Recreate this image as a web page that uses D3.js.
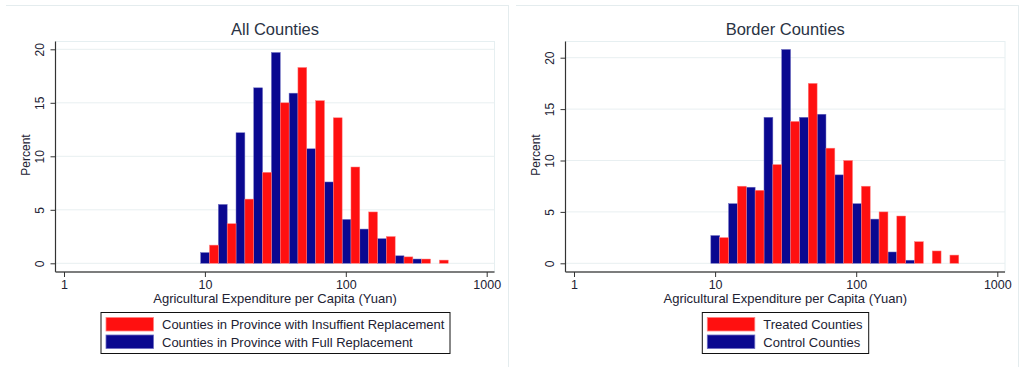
<!DOCTYPE html>
<meta charset="utf-8">
<style>
body{
  margin: 0;
  background-color: white;
}
text{
  font-family: "Liberation Sans", Arial, sans-serif;
  fill: #222233;
}
</style>
<body>
<svg class="chart" width="1019" height="367"></svg>
<script src="https://cdn.jsdelivr.net/npm/d3@7"></script>
<script>
// bin edges (Yuan); each bin is split in half on a log scale: blue left, red right
var binEdges = [9.33, 12.46, 16.63, 22.21, 29.65, 39.59, 52.84, 70.56, 94.19, 125.7, 167.9, 224.1, 299.2, 399.5, 533.3];

// All Counties (percent)
var allInsufficient = [1.7, 3.7, 6.0, 8.5, 15.0, 18.3, 15.2, 13.6, 9.0, 4.8, 2.5, 0.6, 0.4, 0.3];
var allFull         = [1.0, 5.5, 12.2, 16.4, 19.7, 15.9, 10.7, 7.6, 4.1, 3.2, 2.3, 0.7, 0.4, 0];

// Border Counties (percent)
var borderTreated = [2.5, 7.5, 7.1, 9.6, 13.8, 17.5, 11.2, 10.0, 7.5, 5.0, 4.6, 2.1, 1.2, 0.8];
var borderControl = [2.7, 5.8, 7.4, 14.2, 20.8, 14.2, 14.5, 8.6, 5.8, 4.3, 1.1, 0.3, 0, 0];

var xTicks = [1, 10, 100, 1000];
var yTicks = [0, 5, 10, 15, 20];

var RED = '#ff1010';
var BLUE = '#0a0890';

var svg = d3.select('svg');

drawPanel({
  left: 0, title: 'All Counties',
  plot: [55.5, 41.5, 494.5, 272], xRange: [64, 486.7], yRange: [263.3, 49.3],
  red: allInsufficient, blue: allFull,
  legend: [101, 312.5, 450, 353.5],
  labels: ['Counties in Province with Insuffient Replacement', 'Counties in Province with Full Replacement']
});

drawPanel({
  left: 510, title: 'Border Counties',
  plot: [55.5, 41.5, 495, 272], xRange: [64, 487.3], yRange: [263.3, 57.7],
  red: borderTreated, blue: borderControl,
  legend: [192.3, 312.5, 358.7, 353.5],
  labels: ['Treated Counties', 'Control Counties']
});

function drawPanel (p) {
  var g = svg.append('g').attr('transform', 'translate(' + p.left + ',0)');
  var x = d3.scaleLog().domain([1, 1000]).range(p.xRange);
  var y = d3.scaleLinear().domain([0, 20]).range(p.yRange);

  // faint outer frame
  g.append('line').attr('x1', 6).attr('x2', 508).attr('y1', 5.5).attr('y2', 5.5)
    .attr('stroke', '#e4ecee');
  g.append('line').attr('x1', 508.5).attr('x2', 508.5).attr('y1', 5).attr('y2', 367)
    .attr('stroke', '#e4ecee');

  // plot region
  g.append('rect')
    .attr('x', p.plot[0]).attr('y', p.plot[1])
    .attr('width', p.plot[2] - p.plot[0]).attr('height', p.plot[3] - p.plot[1])
    .attr('fill', 'white').attr('stroke', '#e6eff1');

  // gridlines
  g.selectAll('line.grid')
    .data(yTicks)
    .enter()
    .append('line')
    .attr('class', 'grid')
    .attr('x1', p.plot[0]).attr('x2', p.plot[2])
    .attr('y1', function (d) { return y(d); })
    .attr('y2', function (d) { return y(d); })
    .attr('stroke', '#e8eff1');

  // bars
  var bins = p.red.map(function (v, i) {
    var lo = binEdges[i], hi = binEdges[i + 1];
    return { lo: lo, mid: Math.sqrt(lo * hi), hi: hi, red: v, blue: p.blue[i] };
  });

  g.selectAll('rect.blue')
    .data(bins.filter(function (d) { return d.blue > 0; }))
    .enter()
    .append('rect')
    .attr('class', 'blue')
    .attr('x', function (d) { return x(d.lo); })
    .attr('width', function (d) { return x(d.mid) - x(d.lo); })
    .attr('y', function (d) { return y(d.blue); })
    .attr('height', function (d) { return y(0) - y(d.blue); })
    .attr('fill', BLUE)
    .attr('stroke', '#6c6cc0')
    .attr('stroke-width', 0.5);

  g.selectAll('rect.red')
    .data(bins.filter(function (d) { return d.red > 0; }))
    .enter()
    .append('rect')
    .attr('class', 'red')
    .attr('x', function (d) { return x(d.mid); })
    .attr('width', function (d) { return x(d.hi) - x(d.mid); })
    .attr('y', function (d) { return y(d.red); })
    .attr('height', function (d) { return y(0) - y(d.red); })
    .attr('fill', RED)
    .attr('stroke', '#ff8080')
    .attr('stroke-width', 0.5);

  // y axis
  var yAxis = g.append('g')
    .attr('transform', 'translate(' + p.plot[0] + ',0)')
    .call(d3.axisLeft(y).tickValues(yTicks).tickSize(5).tickPadding(0).tickFormat(d3.format('d')));
  yAxis.select('.domain').attr('d', 'M0,' + p.plot[1] + 'V' + p.plot[3])
    .attr('stroke', '#333').attr('stroke-width', 1.2);
  yAxis.selectAll('.tick line').attr('stroke', '#333');
  yAxis.selectAll('.tick text')
    .attr('x', -15.5).attr('dy', '0.35em')
    .attr('transform', 'rotate(-90,-15.5,0)')
    .attr('text-anchor', 'middle')
    .style('font-size', '12px')
    .style('fill', '#222233');

  // x axis
  var xAxis = g.append('g')
    .attr('transform', 'translate(0,' + p.plot[3] + ')')
    .call(d3.axisBottom(x).tickValues(xTicks).tickSize(5).tickPadding(3).tickFormat(d3.format('d')));
  xAxis.select('.domain').attr('d', 'M' + p.plot[0] + ',0H' + p.plot[2])
    .attr('stroke', '#555').attr('stroke-width', 1.6);
  xAxis.selectAll('.tick line').attr('stroke', '#333');
  xAxis.selectAll('.tick text')
    .style('font-size', '12.5px')
    .style('fill', '#222233');

  // titles
  var cx = (p.plot[0] + p.plot[2]) / 2;
  g.append('text')
    .attr('x', cx).attr('y', 34.5)
    .attr('text-anchor', 'middle')
    .style('font-size', '16.5px')
    .style('fill', '#2a3344')
    .text(p.title);

  g.append('text')
    .attr('x', cx).attr('y', 302.5)
    .attr('text-anchor', 'middle')
    .style('font-size', '13px')
    .text('Agricultural Expenditure per Capita (Yuan)');

  g.append('text')
    .attr('transform', 'translate(30,155) rotate(-90)')
    .attr('text-anchor', 'middle')
    .style('font-size', '12px')
    .text('Percent');

  // legend
  var L = p.legend;
  g.append('rect')
    .attr('x', L[0]).attr('y', L[1])
    .attr('width', L[2] - L[0]).attr('height', L[3] - L[1])
    .attr('fill', 'white').attr('stroke', '#111').attr('stroke-width', 1);

  var items = [{ c: RED, s: '#ff8080', t: p.labels[0] }, { c: BLUE, s: '#6c6cc0', t: p.labels[1] }];
  var leg = g.selectAll('g.leg')
    .data(items)
    .enter()
    .append('g')
    .attr('class', 'leg')
    .attr('transform', function (d, i) { return 'translate(' + (L[0] + 5) + ',' + (L[1] + 5 + i * 17.5) + ')'; });
  leg.append('rect')
    .attr('width', 47.5).attr('height', 13.5)
    .attr('fill', function (d) { return d.c; })
    .attr('stroke', function (d) { return d.s; })
    .attr('stroke-width', 0.8);
  leg.append('text')
    .attr('x', 56).attr('y', 11.5)
    .style('font-size', '13px')
    .text(function (d) { return d.t; });
}
</script>
</body>
</html>
